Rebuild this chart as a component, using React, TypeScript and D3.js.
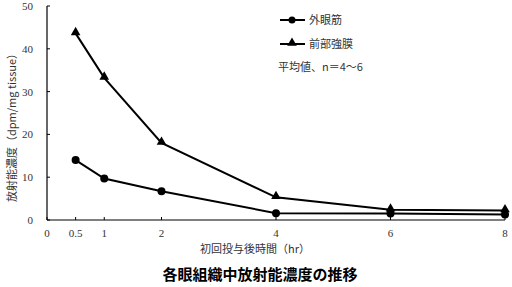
import React from "react";
import * as d3 from "d3";

const times = [0.5, 1, 2, 4, 6, 8];
const muscleValues = [14.0, 9.7, 6.7, 1.6, 1.5, 1.3];
const scleraValues = [43.6, 33.2, 18.0, 5.3, 2.4, 2.2];
const xTicks = [0, 0.5, 1, 2, 4, 6, 8];
const yTicks = [0, 10, 20, 30, 40, 50];
const seriesNames = ["外眼筋", "前部強膜"];

const serif = "'Liberation Serif', 'DejaVu Serif', 'Noto Sans CJK JP', serif";
const cjk = "'Noto Sans CJK JP', sans-serif";

export default function App() {
  const x = d3.scaleLinear().domain([0, 8]).range([47, 505]);
  const y = d3.scaleLinear().domain([0, 50]).range([220, 6]);
  const line = d3
    .line<number>()
    .x((_, i) => x(times[i]))
    .y((d) => y(d));
  const tri = d3.symbol().type(d3.symbolTriangle).size(40)();

  return (
    <svg
      width={512}
      height={287}
      style={{ position: "absolute", left: 0, top: 0, background: "#fff" }}
    >
      <rect width={512} height={287} fill="#fff" />
      {/* axes */}
      <line x1={x(0)} x2={x(8)} y1={y(0)} y2={y(0)} stroke="#000" strokeWidth={1.2} />
      <line x1={x(0)} x2={x(0)} y1={y(0)} y2={y(50)} stroke="#000" strokeWidth={1.2} />
      {yTicks.map((t) => (
        <g key={"y" + t}>
          <line x1={x(0)} x2={x(0) + 3} y1={y(t)} y2={y(t)} stroke="#000" />
          <text
            x={33}
            y={y(t) + 4}
            textAnchor="end"
            fontFamily={serif}
            fontSize={11}
            fill="#333"
          >
            {t}
          </text>
        </g>
      ))}
      {xTicks.map((t) => (
        <g key={"x" + t}>
          <line x1={x(t)} x2={x(t)} y1={y(0)} y2={y(0) - 3} stroke="#000" />
          <text
            x={x(t)}
            y={237}
            textAnchor="middle"
            fontFamily={serif}
            fontSize={11}
            fill="#333"
          >
            {t}
          </text>
        </g>
      ))}
      {/* series */}
      <path d={line(muscleValues) || ""} fill="none" stroke="#000" strokeWidth={2} />
      <path d={line(scleraValues) || ""} fill="none" stroke="#000" strokeWidth={2} />
      {muscleValues.map((v, i) => (
        <circle key={"c" + i} cx={x(times[i])} cy={y(v)} r={4} fill="#000" />
      ))}
      {scleraValues.map((v, i) => (
        <path
          key={"t" + i}
          d={tri || ""}
          transform={`translate(${x(times[i])},${y(v) - 1})`}
          fill="#000"
        />
      ))}
      {/* legend */}
      <line x1={280} x2={305} y1={20} y2={20} stroke="#000" strokeWidth={2} />
      <circle cx={292} cy={20} r={3.5} fill="#000" />
      <text x={309} y={24} fontFamily={cjk} fontSize={11} fill="#333">
        {seriesNames[0]}
      </text>
      <line x1={280} x2={305} y1={44} y2={44} stroke="#000" strokeWidth={2} />
      <path d={tri || ""} transform="translate(292,43)" fill="#000" />
      <text x={309} y={48} fontFamily={cjk} fontSize={11} fill="#333">
        {seriesNames[1]}
      </text>
      <text x={278} y={71} fontFamily={cjk} fontSize={11} fill="#333">
        平均値、n＝4〜6
      </text>
      {/* axis titles */}
      <text
        x={255}
        y={253}
        textAnchor="middle"
        fontFamily={cjk}
        fontSize={11}
        fill="#333"
      >
        初回投与後時間（hr）
      </text>
      <text
        transform="translate(16,125) rotate(-90)"
        textAnchor="middle"
        fontFamily={cjk}
        fontSize={11}
        fill="#333"
      >
        放射能濃度（dpm/mg tissue）
      </text>
      <text
        x={260}
        y={280}
        textAnchor="middle"
        fontFamily={cjk}
        fontSize={15}
        fontWeight="bold"
        fill="#000"
      >
        各眼組織中放射能濃度の推移
      </text>
    </svg>
  );
}
